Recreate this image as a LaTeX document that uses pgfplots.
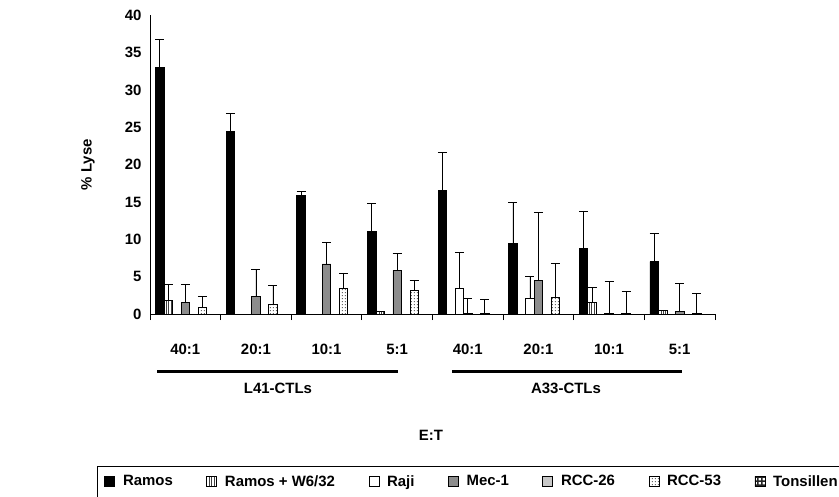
\documentclass[border=0pt]{standalone}
\usepackage{pgfplots}
\pgfplotsset{compat=1.18}
\usepackage{fontspec}
\setmainfont{Liberation Sans}
\usetikzlibrary{patterns}
\pgfdeclarepatternformonly{vlines}{\pgfqpoint{-1pt}{-1pt}}{\pgfqpoint{3.5pt}{3.5pt}}{\pgfqpoint{2.4pt}{2.4pt}}%
{\pgfsetlinewidth{0.9pt}\pgfpathmoveto{\pgfqpoint{1.2pt}{-1pt}}\pgfpathlineto{\pgfqpoint{1.2pt}{3.5pt}}\pgfusepath{stroke}}
\pgfdeclarepatternformonly{sdots}{\pgfqpoint{0pt}{0pt}}{\pgfqpoint{3pt}{3pt}}{\pgfqpoint{3pt}{3pt}}%
{\pgfpathrectangle{\pgfqpoint{0.8pt}{0.8pt}}{\pgfqpoint{1.2pt}{1.2pt}}\pgfusepath{fill}}
\pgfdeclarepatternformonly{tcheck}{\pgfqpoint{0pt}{0pt}}{\pgfqpoint{4pt}{4pt}}{\pgfqpoint{4pt}{4pt}}%
{\pgfpathrectangle{\pgfqpoint{0pt}{0pt}}{\pgfqpoint{4pt}{1.6pt}}\pgfpathrectangle{\pgfqpoint{0pt}{0pt}}{\pgfqpoint{1.6pt}{4pt}}\pgfusepath{fill}}
\newcommand\cf{\fontsize{15}{18}\selectfont\bfseries}
\definecolor{mecgray}{HTML}{8C8C8C}
\definecolor{rccgray}{HTML}{C8C8C8}
\begin{document}
\begin{tikzpicture}[x=1bp,y=1bp]
\begin{axis}[
  at={(0,0)}, anchor=south west,
  scale only axis, width=565bp, height=298.8bp,
  xmin=0, xmax=8, ymin=0, ymax=40,
  axis x line*=bottom, axis y line*=left,
  axis line style={-, line width=0.9bp, black},
  font=\cf,
  /pgf/number format/assume math mode=true,
  ybar=0pt, bar width=8.5bp,
  xtick={0.5,1.5,...,7.5},
  xticklabels={40:1,20:1,10:1,5:1,40:1,20:1,10:1,5:1},
  minor xtick={0,1,...,8},
  tick align=outside,
  major tick length=0bp, minor tick length=6bp,
  minor tick style={line width=0.9bp, black},
  xticklabel style={font=\cf, yshift=-27bp},
  ytick={0,5,...,40},
  yticklabel style={font=\cf, xshift=-5bp},
  ylabel={\% Lyse},
  ylabel style={at={(axis description cs:-0.1097,0.5)}, anchor=center, rotate=0, font=\cf},
  xlabel={E:T},
  xlabel style={at={(axis description cs:0.4973,-0.405)}, anchor=center, font=\cf},
  clip=false,
  legend columns=7,
  legend style={draw=none, fill=none, font=\cf,
    at={(axis description cs:0.5700,-0.5606)}, anchor=center,
    /tikz/every even column/.append style={column sep=31.5bp},
    /tikz/every odd column/.append style={column sep=6bp}},
  legend image code/.code={\draw[#1, line width=0.6bp] (0bp,-5bp) rectangle (10bp,5bp);},
  every axis plot/.append style={draw=black, line width=0.8bp},
  error bars/y dir=plus, error bars/y explicit,
  error bars/error bar style={line width=0.8bp, black},
  error bars/error mark options={rotate=90, mark size=4.5bp, line width=0.8bp, black},
]
\addlegendimage{fill=black, draw=black}
\addlegendentry{Ramos}
\addlegendimage{pattern=vlines, pattern color=black!75, draw=black}
\addlegendentry{Ramos + W6/32}
\addlegendimage{fill=white, draw=black}
\addlegendentry{Raji}
\addlegendimage{fill=mecgray, draw=black}
\addlegendentry{Mec-1}
\addlegendimage{fill=rccgray, draw=black}
\addlegendentry{RCC-26}
\addlegendimage{pattern=sdots, pattern color=black!60, draw=black}
\addlegendentry{RCC-53}
\addlegendimage{pattern=tcheck, pattern color=black!85, draw=black}
\addlegendentry{Tonsillen}
% Ramos
\addplot[fill=black] coordinates {
 (0.5,33.0) +- (0,3.7) (1.5,24.45) +- (0,2.45) (2.5,15.9) +- (0,0.5) (3.5,11.07) +- (0,3.73)
 (4.5,16.6) +- (0,5.0) (5.5,9.46) +- (0,5.5) (6.5,8.8) +- (0,5.0) (7.5,7.0) +- (0,3.75)};
% Ramos + W6/32
\addplot[pattern=vlines, pattern color=black!75] coordinates {
 (0.5,1.85) +- (0,2.15) (1.5,0) +- (0,0) (2.5,0) +- (0,0) (3.5,0.3) +- (0,0)
 (4.5,0) +- (0,0) (5.5,0) +- (0,0) (6.5,1.6) +- (0,1.9) (7.5,0.45) +- (0,0)};
% Raji
\addplot[fill=white] coordinates {
 (0.5,0) +- (0,0) (1.5,0) +- (0,0) (2.5,0) +- (0,0) (3.5,0) +- (0,0)
 (4.5,3.4) +- (0,4.9) (5.5,2.1) +- (0,2.9) (6.5,0) +- (0,0) (7.5,0) +- (0,0)};
% Mec-1
\addplot[fill=mecgray] coordinates {
 (0.5,1.6) +- (0,2.3) (1.5,2.4) +- (0,3.6) (2.5,6.7) +- (0,2.9) (3.5,5.85) +- (0,2.25)
 (4.5,0.1) +- (0,1.95) (5.5,4.55) +- (0,9.1) (6.5,0.1) +- (0,4.2) (7.5,0.3) +- (0,3.75)};
% RCC-26
\addplot[fill=rccgray] coordinates {
 (0.5,0) +- (0,0) (1.5,0) +- (0,0) (2.5,0) +- (0,0) (3.5,0) +- (0,0)
 (4.5,0) +- (0,0) (5.5,0) +- (0,0) (6.5,0) +- (0,0) (7.5,0) +- (0,0)};
% RCC-53
\addplot[pattern=sdots, pattern color=black!60] coordinates {
 (0.5,0.9) +- (0,1.5) (1.5,1.3) +- (0,2.55) (2.5,3.4) +- (0,2.1) (3.5,3.1) +- (0,1.45)
 (4.5,0.05) +- (0,1.95) (5.5,2.24) +- (0,4.56) (6.5,0.05) +- (0,2.95) (7.5,0.05) +- (0,2.65)};
% Tonsillen
\addplot[pattern=tcheck, pattern color=black!85] coordinates {
 (0.5,0) +- (0,0) (1.5,0) +- (0,0) (2.5,0) +- (0,0) (3.5,0) +- (0,0)
 (4.5,0) +- (0,0) (5.5,0) +- (0,0) (6.5,0) +- (0,0) (7.5,0) +- (0,0)};
\end{axis}
\draw[line width=3bp] (7bp,-57bp) -- (248bp,-57bp);
\draw[line width=3bp] (302bp,-57bp) -- (532bp,-57bp);
\node[font=\cf] at (128bp,-74bp) {L41-CTLs};
\node[font=\cf] at (416bp,-74bp) {A33-CTLs};
\draw[line width=1bp] (-52bp,-152bp) -- (689bp,-152bp);
\draw[line width=1bp] (-52bp,-182.5bp) -- (-52bp,-152bp);
\pgfresetboundingbox
\path[use as bounding box] (-150bp,-183bp) rectangle (689bp,314bp);
\end{tikzpicture}
\end{document}
